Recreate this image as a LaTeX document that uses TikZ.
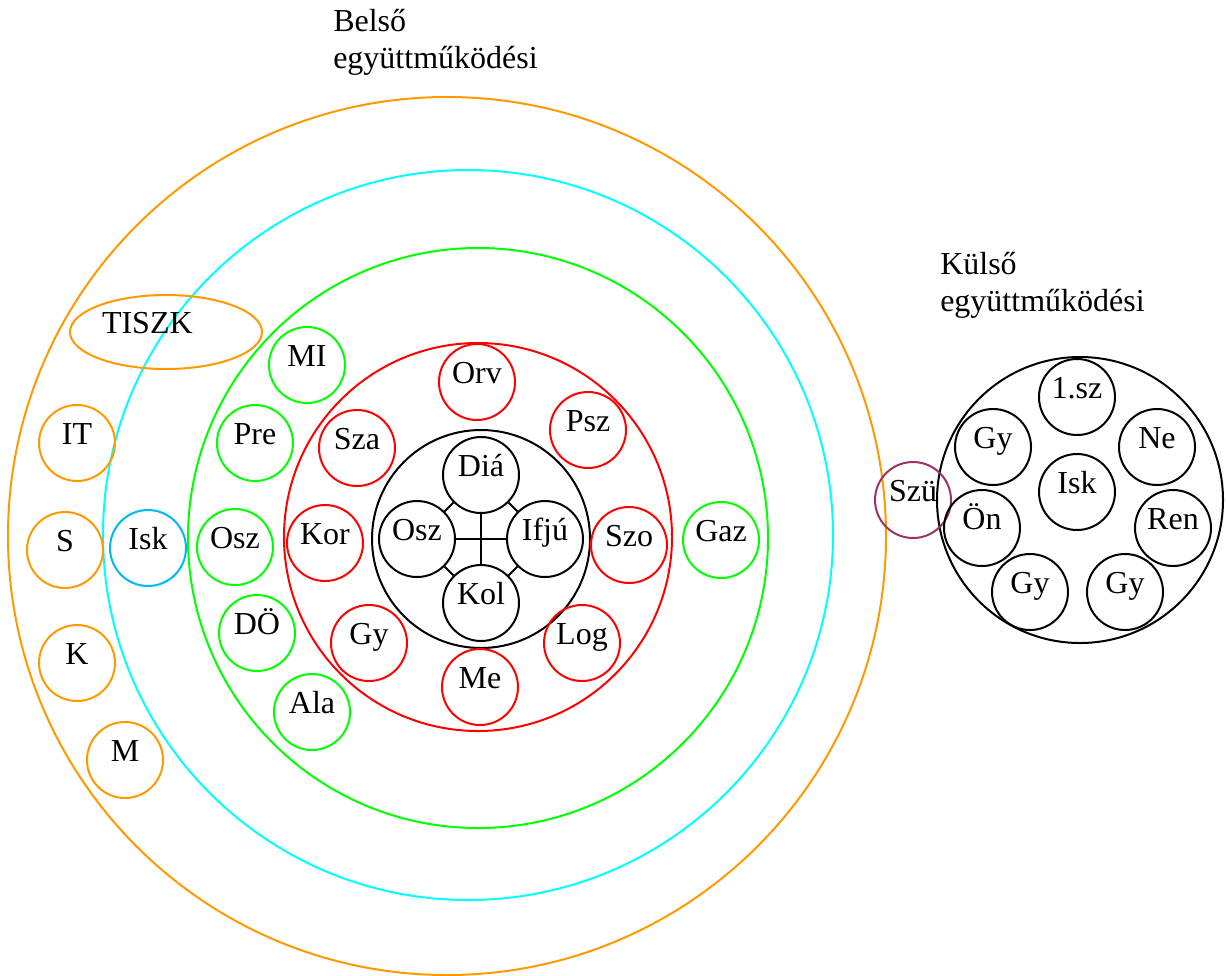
\documentclass[tikz,border=0pt]{standalone}
\usepackage{fontspec}
\setmainfont{Liberation Serif}
\usetikzlibrary{shapes.geometric}
\definecolor{wordorange}{HTML}{FF9900}
\definecolor{wordcyan}{HTML}{00FFFF}
\definecolor{wordgreen}{HTML}{00FF00}
\definecolor{wordred}{HTML}{FF0000}
\definecolor{wordblue}{HTML}{00B8F0}
\definecolor{wordplum}{HTML}{993366}
\tikzstyle{ring} = [line width=1.5pt]
\tikzstyle{bubble} = [circle, minimum size=57pt, inner sep=0pt, text height=0.65em, text depth=0.45em, line width=1.5pt]
\tikzstyle{external} = [bubble, draw=wordorange]
\tikzstyle{school} = [bubble, draw=wordblue]
\tikzstyle{staff} = [bubble, draw=wordgreen]
\tikzstyle{service} = [bubble, draw=wordred]
\tikzstyle{member} = [bubble, draw=black]
\tikzstyle{bridge} = [bubble, draw=wordplum]
\tikzstyle{heading} = [align=left, inner sep=0pt, anchor=north west]
\tikzstyle{link} = [line width=1.5pt]

\begin{document}
\begin{tikzpicture}[x=0.75pt, y=-0.75pt, node distance=48pt, font=\fontsize{24}{27.5}\selectfont]
\useasboundingbox (0,0) rectangle (1226,975);

% belso rings
\draw [ring, draw=wordorange] (447,536) circle (439);
\draw [ring, draw=wordcyan] (468,535) circle (365);
\draw [ring, draw=wordgreen] (478,538) circle (290);
\draw [ring, draw=wordred] (478,537) circle (194);
\draw [ring, draw=black] (481,539) circle (109);

\node (belso) [heading] at (333,9) {Belső\\együttműködési};

% orange ring
\node (tiszk) [ellipse, draw=wordorange, line width=1.5pt, minimum width=144pt, minimum height=55.5pt, inner sep=0pt, text width=96pt, align=left, text height=0.65em, text depth=0.45em] at (166,332) {TISZK};
\node (it) [external] at (77,443) {IT};
\node (s) [external] at (65,550) {S};
\node (k) [external] at (77,663) {K};
\node (m) [external] at (125,760) {M};

% cyan ring
\node (isk) [school] at (148,548) {Isk};

% green ring
\node (mip) [staff] at (307,365) {MI};
\node (pre) [staff] at (255,443) {Pre};
\node (oszt) [staff] at (235,547) {Osz};
\node (dok) [staff] at (257,633) {DÖ};
\node (ala) [staff] at (312,712) {Ala};
\node (gaz) [staff] at (721,540) {Gaz};

% red ring
\node (orv) [service] at (477,382) {Orv};
\node (psz) [service] at (588,430) {Psz};
\node (sza) [service] at (357,448) {Sza};
\node (kor) [service] at (325,543) {Kor};
\node (szo) [service] at (629,545) {Szo};
\node (gy) [service] at (369,643) {Gy};
\node (log) [service] at (582,643) {Log};
\node (me) [service] at (480,687) {Me};

% core
\coordinate (core) at (481,539);
\node (dia) [member, above of=core] {Diá};
\node (osz) [member, left of=core] {Osz};
\node (ifju) [member, right of=core] {Ifjú};
\node (kol) [member, below of=core] {Kol};

\draw [link] (osz) -- (ifju);
\draw [link] (dia) -- (kol);
\draw [link] (dia) -- (osz);
\draw [link] (dia) -- (ifju);
\draw [link] (kol) -- (osz);
\draw [link] (kol) -- (ifju);

% kulso
\draw [ring, draw=black] (1080,500) circle (143);
\node (kulso) [heading] at (940,252) {Külső\\együttműködési};

\node (szu) [bridge] at (913,500) {Szü};
\node (elso) [member] at (1077,397) {1.sz};
\node (gya) [member] at (993,447) {Gy};
\node (ne) [member] at (1157,447) {Ne};
\node (iskb) [member] at (1077,492) {Isk};
\node (on) [member] at (982,528) {Ön};
\node (ren) [member] at (1173,528) {Ren};
\node (gyb) [member] at (1030,592) {Gy};
\node (gyc) [member] at (1125,592) {Gy};

\end{tikzpicture}
\end{document}
